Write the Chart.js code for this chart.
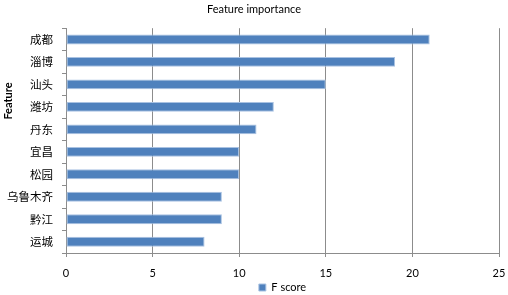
<!DOCTYPE html>
<html>
<head>
<meta charset="utf-8">
<script src="https://cdn.jsdelivr.net/npm/chart.js@4"></script>
<style>
  html, body { margin: 0; padding: 0; background: #fff; }
  #wrap { width: 508px; height: 295px; }
</style>
</head>
<body>
<div id="wrap"><canvas id="chart"></canvas></div>
<script>
// Data
const features = ['成都', '淄博', '汕头', '潍坊', '丹东', '宜昌', '松园', '乌鲁木齐', '黔江', '运城'];
const fScores = [21, 19, 15, 12, 11, 10, 10, 9, 9, 8];
const xMin = 0;
const xMax = 25;
const xStep = 5;

const GRID = '#8c8c8c';
const LATIN = "Lato, 'Open Sans', sans-serif";
const CJK = "'Noto Sans CJK SC', sans-serif";

// Excel puts the axis title a bit above the middle, draw it by hand
const featureTitle = {
    id: 'featureTitle',
    afterDraw(chart) {
        const c = chart.ctx;
        c.save();
        c.translate(8, 101);
        c.rotate(-Math.PI / 2);
        c.font = "bold 11px " + LATIN;
        c.fillStyle = '#000';
        c.textAlign = 'center';
        c.textBaseline = 'middle';
        c.fillText('Feature', 0, 0);
        c.restore();
    }
};

new Chart(document.getElementById('chart'), {
    type: 'bar',
    data: {
        labels: features,
        datasets: [{
            label: 'F score',
            data: fScores,
            backgroundColor: '#4f81bd',
            borderColor: '#a9c2e2',
            borderWidth: 1,
            borderSkipped: false,
            barPercentage: 0.44,
            categoryPercentage: 1
        }]
    },
    options: {
        indexAxis: 'y',
        responsive: true,
        maintainAspectRatio: false,
        animation: false,
        layout: { padding: { left: 0, right: 0, top: 0, bottom: -8 } },
        plugins: {
            title: {
                display: true,
                text: 'Feature importance',
                color: '#000',
                font: { family: LATIN, size: 11, weight: 'normal' },
                padding: { top: 3, bottom: 12 }
            },
            legend: {
                position: 'bottom',
                fullSize: false,
                labels: {
                    color: '#000',
                    font: { family: LATIN, size: 11 },
                    boxWidth: 7,
                    boxHeight: 7,
                    padding: 2
                }
            },
            tooltip: { enabled: false }
        },
        scales: {
            x: {
                min: xMin,
                max: xMax,
                afterFit(scale) {
                    scale.height = 27;
                    scale.paddingRight = 9;
                    scale.paddingLeft = 0;
                },
                ticks: {
                    stepSize: xStep,
                    color: '#000',
                    font: { family: LATIN, size: 11 },
                    padding: 10
                },
                grid: { color: GRID, tickLength: 4 },
                border: { color: GRID }
            },
            y: {
                afterFit(scale) { scale.width = 66; },
                ticks: {
                    color: '#000',
                    font: { family: CJK, size: 11.5 },
                    padding: 9
                },
                grid: {
                    display: true,
                    drawOnChartArea: false,
                    drawTicks: true,
                    tickLength: 4,
                    color: GRID,
                    offset: true
                },
                border: { color: GRID }
            }
        }
    },
    plugins: [featureTitle]
});
</script>
</body>
</html>
